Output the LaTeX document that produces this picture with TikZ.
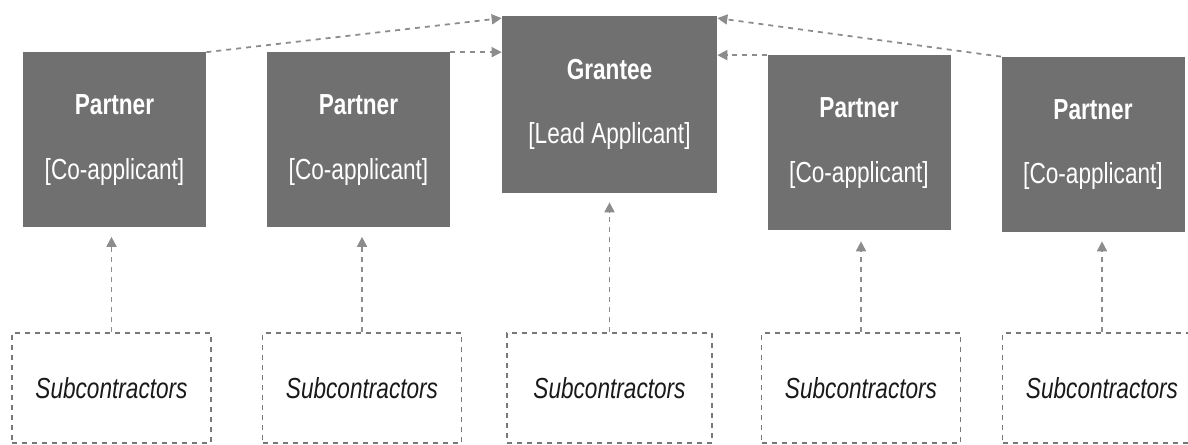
\documentclass[tikz,border=0pt]{standalone}
\usepackage{fontspec}
\setmainfont{Liberation Sans}[FakeStretch=0.78]
\usepackage{tikz}
\usetikzlibrary{arrows.meta,positioning}
\definecolor{boxgray}{RGB}{112,112,112}
\definecolor{linegray}{RGB}{140,140,140}
\definecolor{subgray}{RGB}{120,120,120}

\begin{document}
\begin{tikzpicture}[
  >={Triangle[length=2mm,width=2mm]},
  partner/.style={fill=boxgray,text=white,align=center,inner sep=0pt,
                  minimum width=3.66cm,minimum height=3.5cm,
                  font=\fontsize{16.5}{36.5}\selectfont},
  lead/.style={partner,minimum width=4.3cm,minimum height=3.54cm},
  subc/.style={draw=subgray,dashed,dash pattern=on 1mm off 1mm,line width=0.9pt,
               minimum width=3.98cm,minimum height=2.2cm,inner sep=0pt,
               text=black!90,font=\fontsize{16.5}{20}\selectfont\itshape},
  link/.style={->,linegray,line width=1pt,dash pattern=on 1mm off 1mm},
  feed/.style={link,shorten >=1.8mm}
]
\clip (0,0) rectangle (23.76,-8.9);

\node[partner] (par1) at (2.29,-2.80)  {\textbf{Partner}\\{[Co-applicant]}};
\node[partner] (par2) at (7.17,-2.80)  {\textbf{Partner}\\{[Co-applicant]}};
\node[lead]    (gra)  at (12.19,-2.09) {\textbf{Grantee}\\{[Lead Applicant]}};
\node[partner] (par3) at (17.18,-2.86) {\textbf{Partner}\\{[Co-applicant]}};
\node[partner] (par4) at (21.86,-2.89) {\textbf{Partner}\\{[Co-applicant]}};

\node[subc] (sub1) at (2.23,-7.76)  {Subcontractors};
\node[subc] (sub2) at (7.24,-7.76)  {Subcontractors};
\node[subc,minimum width=4.1cm] (sub3) at (12.19,-7.76) {Subcontractors};
\node[subc] (sub4) at (17.22,-7.76) {Subcontractors};
\node[subc] (sub5) at (22.04,-7.76) {Subcontractors};

% partners to the lead applicant
\draw[link] (par1.north east) -- ([yshift=-0.5mm]gra.north west);
\draw[link] (par2.north east) -- (par2.north east -| gra.west);
\draw[link] (par3.north west) -- (par3.north west -| gra.east);
\draw[link] (par4.north west) -- ([yshift=-0.5mm]gra.north east);

% subcontractors
\draw[feed] (sub1.north) -- (sub1.north |- par1.south);
\draw[feed] (sub2.north) -- (sub2.north |- par2.south);
\draw[feed] (sub3.north) -- (sub3.north |- gra.south);
\draw[feed] (sub4.north) -- (sub4.north |- par4.south);
\draw[feed] (sub5.north) -- (sub5.north |- par4.south);
\end{tikzpicture}
\end{document}
